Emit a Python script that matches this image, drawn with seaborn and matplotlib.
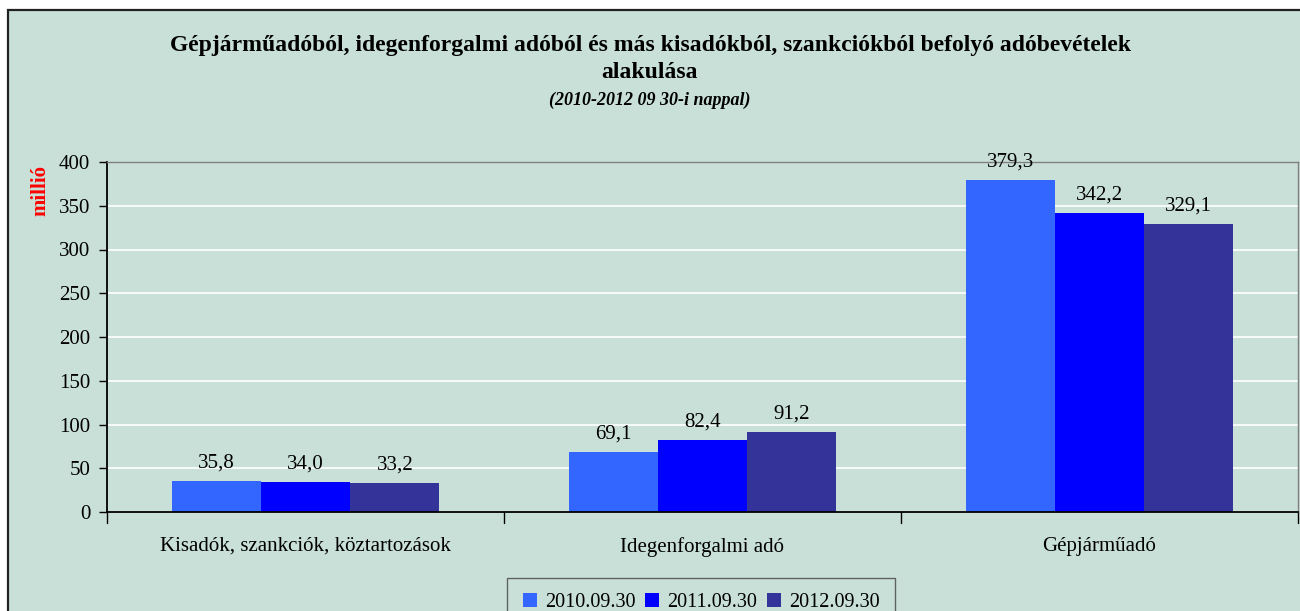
import matplotlib
matplotlib.use("Agg")
import matplotlib.pyplot as plt
import matplotlib.patches as mpatches
import seaborn as sns
import pandas as pd

categories = ["Kisadók, szankciók, köztartozások", "Idegenforgalmi adó", "Gépjárműadó"]
series = ["2010.09.30", "2011.09.30", "2012.09.30"]
v2010 = [35.8, 69.1, 379.3]
v2011 = [34.0, 82.4, 342.2]
v2012 = [33.2, 91.2, 329.1]
colors = ["#3366FF", "#0000FF", "#333399"]
yticks = [0, 50, 100, 150, 200, 250, 300, 350, 400]

rows = []
for s, vals in zip(series, [v2010, v2011, v2012]):
    for c, v in zip(categories, vals):
        rows.append({"cat": c, "series": s, "val": v})
df = pd.DataFrame(rows)

sns.set_theme(style="white")
FONT = ["Liberation Serif", "DejaVu Serif"]
plt.rcParams["font.family"] = FONT
plt.rcParams["text.color"] = "black"
plt.rcParams["xtick.color"] = "black"
plt.rcParams["ytick.color"] = "black"
bg = "#C9E0D8"

fig = plt.figure(figsize=(13, 6.11), dpi=100, facecolor="white")
# outer panel
panel = mpatches.Rectangle((8/1300, -0.05), 1.1, 1 - 10/611 + 0.05,
                           transform=fig.transFigure, facecolor=bg,
                           edgecolor="#222222", linewidth=1.6, zorder=-10)
fig.patches.append(panel)

ax = fig.add_axes([107/1300, 1 - 512/611, (1298 - 107)/1300, (512 - 162)/611])
ax.set_zorder(1)
ax.set_facecolor(bg)
sns.barplot(data=df, x="cat", y="val", hue="series", order=categories, hue_order=series,
            palette=colors, width=0.675, gap=0, saturation=1, ax=ax, legend=True,
            edgecolor="none", linewidth=0)

ax.set_ylim(0, 400)
ax.set_xlim(-0.5, 2.5)
ax.set_yticks(yticks)
ax.set_yticklabels([str(t) for t in yticks], fontsize=15)
ax.yaxis.grid(True, color="white", linewidth=1.2)
ax.set_axisbelow(True)
ax.set_xlabel("")
ax.set_ylabel("")
ax.set_xticks([0, 1, 2])
ax.set_xticklabels(categories, fontsize=15)
ax.tick_params(axis="x", length=0, pad=18)
ax.tick_params(axis="y", length=6, width=1, color="black", left=True, pad=6)
# category boundary ticks
for xb in [-0.5, 0.5, 1.5, 2.5]:
    ax.plot([xb, xb], [0, -0.03], transform=ax.get_xaxis_transform(), color="black",
            linewidth=1, clip_on=False)

for side in ["top", "right"]:
    ax.spines[side].set_color("#808080")
    ax.spines[side].set_linewidth(1)
for side in ["left", "bottom"]:
    ax.spines[side].set_color("black")
    ax.spines[side].set_linewidth(1.3)

for cont in ax.containers:
    labels = [f"{b.get_height():.1f}".replace(".", ",") for b in cont]
    ax.bar_label(cont, labels=labels, padding=6, fontsize=15, color="black")

leg = ax.legend(loc="upper center", bbox_to_anchor=(0.499, -0.188),
                ncol=3, frameon=True, fontsize=14.5, handlelength=0.7, handleheight=0.7,
                handletextpad=0.4, columnspacing=0.5, borderpad=0.75, borderaxespad=0,
                fancybox=False)
leg.get_frame().set_edgecolor("#444444")
leg.get_frame().set_facecolor(bg)
leg.get_frame().set_linewidth(1)
for t in leg.get_texts():
    t.set_color("black")

fig.text(0.5, 1 - 45/611, "Gépjárműadóból, idegenforgalmi adóból és más kisadókból, szankciókból befolyó adóbevételek",
         ha="center", va="center", fontsize=17, fontweight="bold", color="black")
fig.text(0.5, 1 - 72/611, "alakulása", ha="center", va="center", fontsize=17, fontweight="bold",
         color="black")
fig.text(0.5, 1 - 100/611, "(2010-2012 09 30-i nappal)", ha="center", va="center",
         fontsize=13, fontweight="bold", style="italic", color="black")
fig.text(40/1300, 1 - 190/611, "millió", ha="center", va="center", rotation=90,
         fontsize=15, fontweight="bold", color="#FF0000")

fig.savefig("out.png", dpi=100, facecolor="white")
